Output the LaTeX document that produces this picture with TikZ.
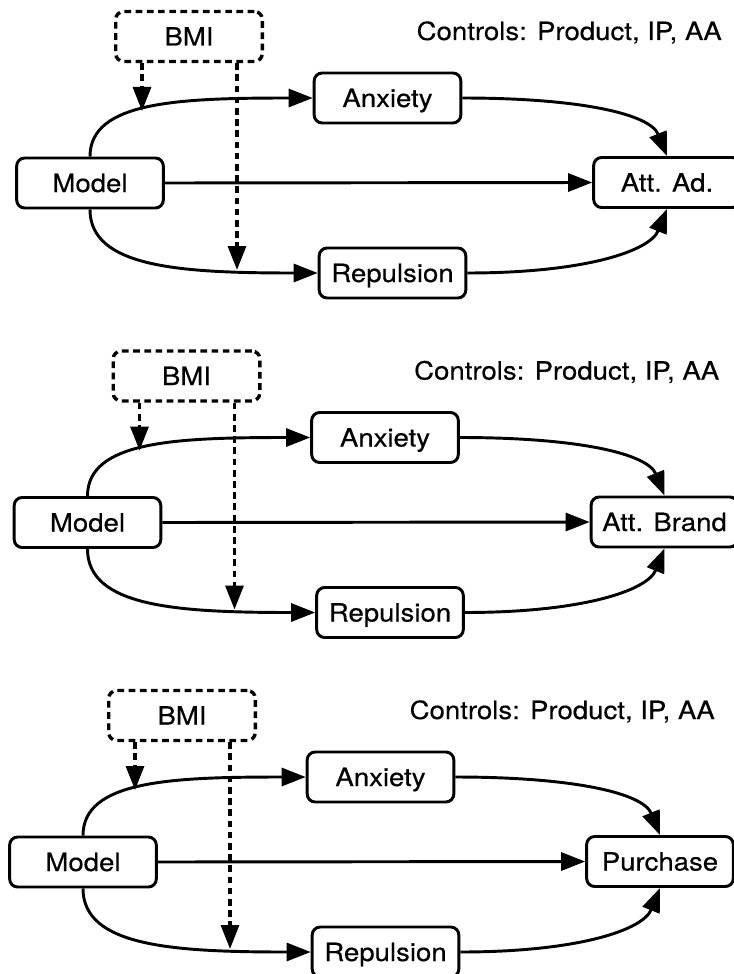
\documentclass[tikz,border=0pt]{standalone}
\usepackage{fontspec}
\setmainfont{TeX Gyre Heros}[FakeStretch=1.1,FakeBold=0.35]
\usetikzlibrary{arrows.meta,calc}
\tikzset{
  box/.style={draw, line width=2.2pt, rounded corners=6pt, minimum width=110pt,
    minimum height=37.5pt, inner sep=0pt, text height=13.5pt, text depth=0pt,
    font=\fontsize{18.8pt}{22pt}\selectfont},
  dbox/.style={box, line width=2.5pt, dash pattern=on 5pt off 3.4pt},
  arr/.style={line width=2.2pt, -{Triangle[length=18pt,width=13.5pt]}},
  darr/.style={arr, line width=2.5pt, dash pattern=on 5pt off 3.4pt},
  ctrl/.style={anchor=base east, inner sep=0pt, font=\fontsize{18.8pt}{22pt}\selectfont}
}
\newcommand\drawpanel[4]{%
  \begin{scope}[shift={(#2,#3)}]
    \node[dbox] (#1b) at (189,36.5) {BMI};
    \node[box] (#1m) at (90,183) {Model};
    \node[box] (#1a) at (387.5,98) {Anxiety};
    \node[box] (#1r) at (392.5,273) {Repulsion};
    \node[box] (#1o) at (667,182.5) {#4};
    \node[ctrl] (#1c) at (722,40) {Controls: Product, IP, AA};
    \coordinate (#1t1) at (142,111);
    \coordinate (#1t2) at (237,270);
    \draw[arr] (#1m.north) .. controls +(0,-55) and +(-135,0) .. (#1a.west);
    \draw[arr] (#1m.south) .. controls +(0,58) and +(-138,0) .. (#1r.west);
    \draw[arr] (#1m.east) -- (#1o.west);
    \draw[arr] (#1a.east) .. controls +(118,0) and +(-17,-42) .. (#1o.north);
    \draw[arr] (#1r.east) .. controls +(118,0) and +(-17,42) .. (#1o.south);
    \draw[darr] (#1b.south -| #1t1) -- (#1t1);
    \draw[darr] (#1b.south -| #1t2) -- (#1t2);
  \end{scope}}
\begin{document}
\begin{tikzpicture}[x=0.75pt,y=-0.75pt]
  \useasboundingbox (0,0) rectangle (734,974);
  \clip (0,0) rectangle (734,974);
  \fill[white] (0,0) rectangle (734,974);
  \drawpanel{p}{0}{0}{Att. Ad.}
  \drawpanel{q}{-2.5}{339.5}{Att. Brand}
  \drawpanel{s}{-7}{679}{Purchase}
\end{tikzpicture}
\end{document}
